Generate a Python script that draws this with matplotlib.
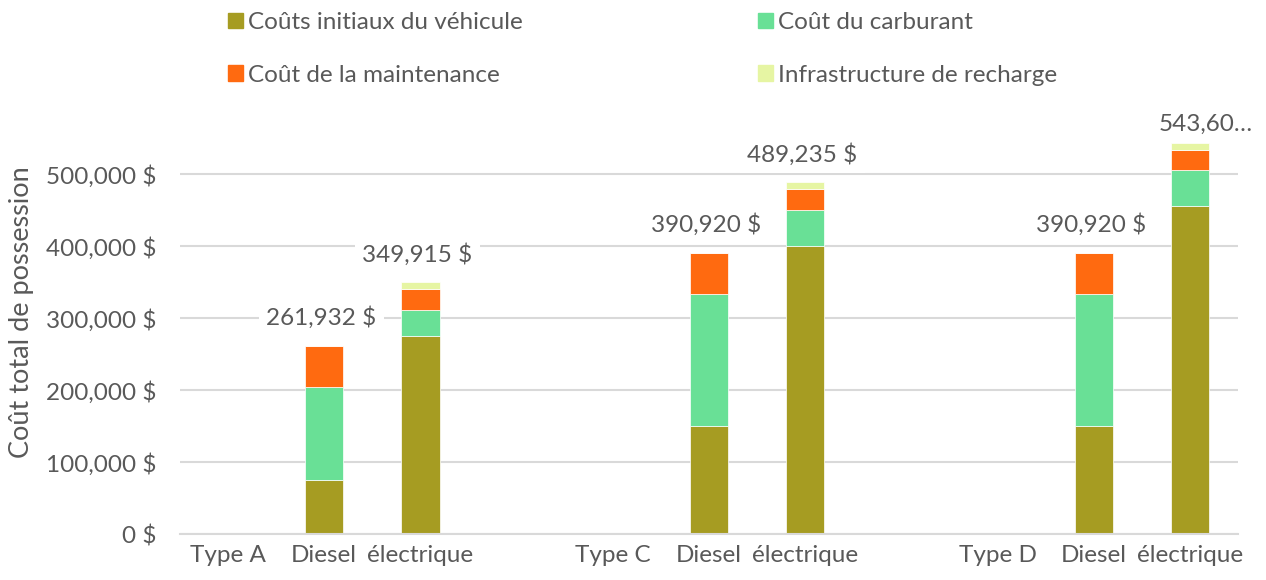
import numpy as np
import matplotlib.pyplot as plt
from matplotlib.ticker import FuncFormatter
from matplotlib.patches import Patch

plt.rcParams['font.family'] = ['Lato', 'DejaVu Sans']

categories = ['Type A', 'Diesel', 'électrique', '', 'Type C', 'Diesel', 'électrique',
              '', 'Type D', 'Diesel', 'électrique']
initial = [0, 75000, 275000, 0, 0, 150000, 400000, 0, 0, 150000, 455000]
fuel = [0, 130000, 36000, 0, 0, 184000, 50000, 0, 0, 184000, 50000]
maint = [0, 56932, 28915, 0, 0, 56920, 29235, 0, 0, 56920, 28600]
infra = [0, 0, 10000, 0, 0, 0, 10000, 0, 0, 0, 10000]

series = ['Coûts initiaux du véhicule', 'Coût du carburant',
          'Coût de la maintenance', 'Infrastructure de recharge']
colors = ['#A69C22', '#69E096', '#FF6A10', '#E6F5A3']
txt = '#595959'

fig = plt.figure(figsize=(12.66, 5.8), dpi=100)
ax = fig.add_axes([0.142, 0.079, 0.836, 0.683])

x = np.arange(len(categories))
bottom = np.zeros(len(categories))
for vals, c in zip([initial, fuel, maint, infra], colors):
    ax.bar(x, vals, 0.4, bottom=bottom, color=c, edgecolor='white', linewidth=0.5, zorder=2)
    bottom += np.array(vals)

totals = bottom
for i, t in enumerate(totals):
    if t <= 0:
        continue
    lab = f"{int(t):,} $"
    off = (-2, 20)
    if i == len(totals) - 1:
        # label clipped at the chart edge, like the original
        lab = lab[:6] + '…'
        off = (11, 13)
    ax.annotate(lab, (x[i], t), xytext=off, textcoords='offset points',
                ha='center', va='center', fontsize=17.5, color=txt, zorder=5,
                bbox=dict(boxstyle='square,pad=0.3', fc='white', ec='none'),
                annotation_clip=False)

ax.set_xlim(-0.5, len(categories) - 0.5)
ax.set_ylim(0, 550000)
ax.set_yticks(np.arange(0, 500001, 100000))
ax.yaxis.set_major_formatter(FuncFormatter(lambda v, p: f"{int(v):,} $"))
ax.set_xticks(x)
ax.set_xticklabels(categories)
ax.tick_params(length=0, labelsize=17.5, colors=txt)
ax.tick_params(axis='x', pad=8)
ax.tick_params(axis='y', pad=17)
ax.grid(axis='y', color='#D9D9D9', linewidth=1.5, zorder=0)
ax.set_axisbelow(True)
for s in ['top', 'right', 'left']:
    ax.spines[s].set_visible(False)
ax.spines['bottom'].set_color('#D9D9D9')
ax.spines['bottom'].set_linewidth(1.5)
ax.set_ylabel('Coût total de possession', fontsize=19.5, color=txt)
ax.yaxis.set_label_coords(-0.138, 0.56)

handles = [Patch(color=c) for c in colors]
order = [0, 2, 1, 3]
fig.legend([handles[k] for k in order], [series[k] for k in order], ncol=2,
           loc='upper left', bbox_to_anchor=(0.163, 1.017), frameon=False,
           fontsize=17.5, labelcolor=txt, handlelength=0.6, handleheight=0.6,
           handletextpad=0.2, columnspacing=9.7, labelspacing=1.3)

fig.savefig('out.png', dpi=100)
